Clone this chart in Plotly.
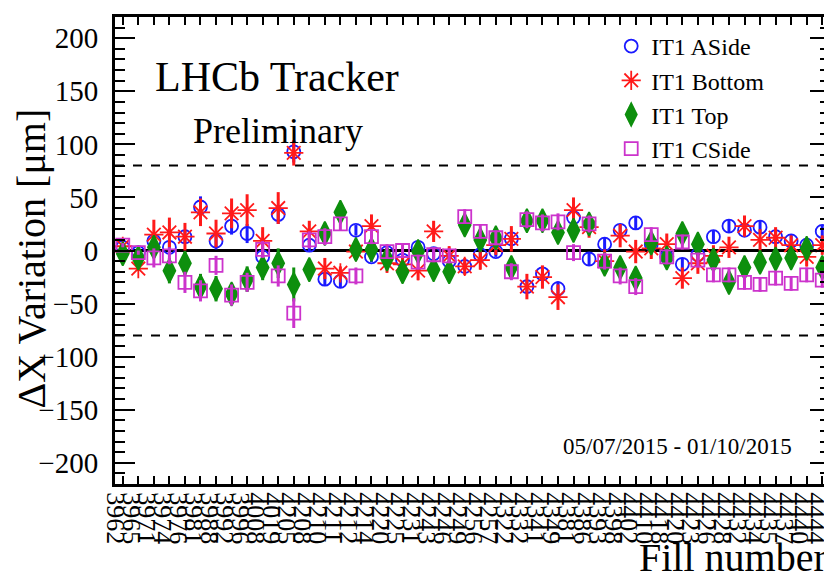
import plotly.graph_objects as go

fills = ["3962", "3965", "3971", "3974", "3976", "3981", "3988", "3992", "3996", "4008",
         "4019", "4205", "4208", "4210", "4211", "4212", "4214", "4220", "4225", "4231",
         "4243", "4246", "4249", "4256", "4257", "4322", "4332", "4341", "4349", "4381",
         "4386", "4393", "4398", "4402", "4410", "4418", "4420", "4423", "4426", "4428",
         "4432", "4434", "4435", "4437", "4440", "4444"]

aside = [3, -2, 9, 3, 13, 41, 9, 23, 16, -6,
         34, 93, 5, -27, -29, 19, -6, -2, -9, 3,
         -3, -10, -15, -4, -1, 11, -34, -22, -36, 31,
         -8, 6, 19, 26, 6, -6, -13, -4, 13, 23,
         19, 22, 13, 9, 5, 18]
aside_err = [2, 2, 8, 7, 6, 10, 8, 8, 9, 8,
             9, 10, 6, 6, 6, 5, 5, 5, 5, 5,
             4, 5, 4, 5, 5, 5, 6, 6, 7, 6,
             6, 6, 6, 6, 5, 5, 6, 6, 6, 6,
             6, 6, 6, 6, 6, 6]

bottom = [4, -17, 15, 17, 13, 36, 16, 35, 38, 9,
          40, 92, 18, -17, -21, -1, 23, -12, -13, -19,
          18, -5, -15, -9, 5, 11, -34, -25, -44, 38,
          22, -10, 14, -1, 2, 6, -26, -12, -5, 3,
          23, 10, 12, 5, -6, 5]
bottom_err = [2, 2, 14, 14, 13, 13, 13, 14, 15, 13,
              15, 12, 10, 10, 6, 8, 11, 9, 9, 9,
              10, 9, 8, 9, 9, 12, 12, 11, 12, 12,
              10, 11, 11, 11, 10, 10, 10, 10, 10, 10,
              10, 10, 10, 9, 9, 9]

top = [-3, -7, 3, -19, -12, -34, -36, -41, -27, -16,
       -12, -32, -18, 16, 36, 1, 1, -8, -20, -1,
       -18, -20, 24, 10, 12, -16, 28, 28, 17, 19,
       25, -13, -16, -26, 7, -7, 16, 6, -9, -30,
       -16, -11, -8, -7, 2, -16]
top_err = [2, 3, 10, 12, 11, 12, 12, 10, 12, 12,
           14, 16, 10, 10, 5, 8, 8, 8, 8, 9,
           9, 9, 8, 8, 8, 9, 9, 9, 9, 9,
           9, 9, 9, 9, 9, 9, 9, 9, 9, 9,
           9, 9, 9, 9, 9, 9]

cside = [5, -2, -7, -5, -30, -38, -14, -42, -30, 1,
         -24, -59, 10, 13, 25, -24, 13, -1, 0, -11,
         -4, -5, 32, 18, 12, -20, 29, 26, 27, -2,
         25, -10, -24, -34, 15, -6, 8, -9, -23, -23,
         -30, -32, -26, -31, -23, -28]
cside_err = [2, 2, 9, 8, 10, 10, 9, 10, 9, 8,
             10, 14, 8, 8, 6, 8, 7, 7, 7, 7,
             7, 7, 7, 7, 7, 8, 8, 8, 8, 8,
             8, 8, 8, 8, 7, 7, 7, 7, 7, 7,
             7, 7, 7, 7, 7, 7]

y_ticks = [-200, -150, -100, -50, 0, 50, 100, 150, 200]
band = 80

FONT = "Liberation Serif, Times New Roman, serif"
x = list(range(len(fills)))

series = [
    ("IT1 ASide", aside, aside_err, "#1a1aff", "circle-open", 13),
    ("IT1 Bottom", bottom, bottom_err, "#ff1a1a", "asterisk-open", 16),
    ("IT1 Top", top, top_err, "#0d8f0d", "diamond-tall", 17),
    ("IT1 CSide", cside, cside_err, "#cc33cc", "square-open", 13),
]

fig = go.Figure()
for name, vals, errs, col, sym, sz in series:
    fig.add_trace(go.Scatter(
        x=x, y=vals, mode="markers", name=name,
        marker=dict(symbol=sym, size=sz, color=col, line=dict(color=col, width=1.8)),
        error_y=dict(type="data", array=errs, visible=True, color=col, thickness=3, width=0),
    ))

for yv in (band, -band):
    fig.add_shape(type="line", xref="paper", yref="y", x0=0, x1=1, y0=yv, y1=yv,
                  line=dict(color="black", width=2, dash="dash"), layer="below")
fig.add_shape(type="line", xref="paper", yref="y", x0=0, x1=1, y0=0, y1=0,
              line=dict(color="black", width=3), layer="below")

fig.update_layout(
    width=832, height=579,
    margin=dict(l=107, r=10, t=6, b=103),
    paper_bgcolor="white", plot_bgcolor="white",
    font=dict(family=FONT, color="black"),
    showlegend=True,
    legend=dict(x=0.694, y=0.985, xanchor="left", yanchor="top",
                font=dict(size=24, family=FONT), bgcolor="rgba(0,0,0,0)",
                borderwidth=0),
)

fig.update_xaxes(
    range=[-0.5, len(fills) - 0.5],
    tickmode="array", tickvals=x, ticktext=fills,
    tickangle=90, tickfont=dict(size=26, family=FONT),
    ticks="inside", ticklen=8, tickwidth=2, tickcolor="black",
    showline=True, linewidth=3, linecolor="black", mirror="allticks",
    showgrid=False, zeroline=False, ticklabelshift=-7,
)
fig.update_yaxes(
    range=[-220, 220],
    tickmode="array", tickvals=y_ticks,
    tickfont=dict(size=29, family=FONT),
    ticks="inside", ticklen=20, tickwidth=2, tickcolor="black",
    minor=dict(dtick=10, tick0=0, ticks="inside", ticklen=10, tickwidth=2, tickcolor="black"),
    showline=True, linewidth=3, linecolor="black", mirror="allticks",
    showgrid=False, zeroline=False, ticklabelstandoff=8,
)

fig.add_annotation(text="ΔX Variation [μm]", xref="paper", yref="paper",
                   x=-0.1175, y=0.483, xanchor="center", yanchor="middle", textangle=-90,
                   showarrow=False, font=dict(size=40, family=FONT))
fig.add_annotation(text="Fill number", xref="paper", yref="paper",
                   x=0.999, y=-0.158, xanchor="right", yanchor="middle",
                   showarrow=False, font=dict(size=40, family=FONT))
fig.add_annotation(text="LHCb Tracker", xref="paper", yref="paper",
                   x=0.053, y=0.8725, xanchor="left", yanchor="middle",
                   showarrow=False, font=dict(size=42, family=FONT))
fig.add_annotation(text="Preliminary", xref="paper", yref="paper",
                   x=0.106, y=0.755, xanchor="left", yanchor="middle",
                   showarrow=False, font=dict(size=36, family=FONT))
fig.add_annotation(text="05/07/2015 - 01/10/2015", xref="paper", yref="paper",
                   x=0.624, y=0.081, xanchor="left", yanchor="middle",
                   showarrow=False, font=dict(size=23, family=FONT))

fig.write_html("out.html")
